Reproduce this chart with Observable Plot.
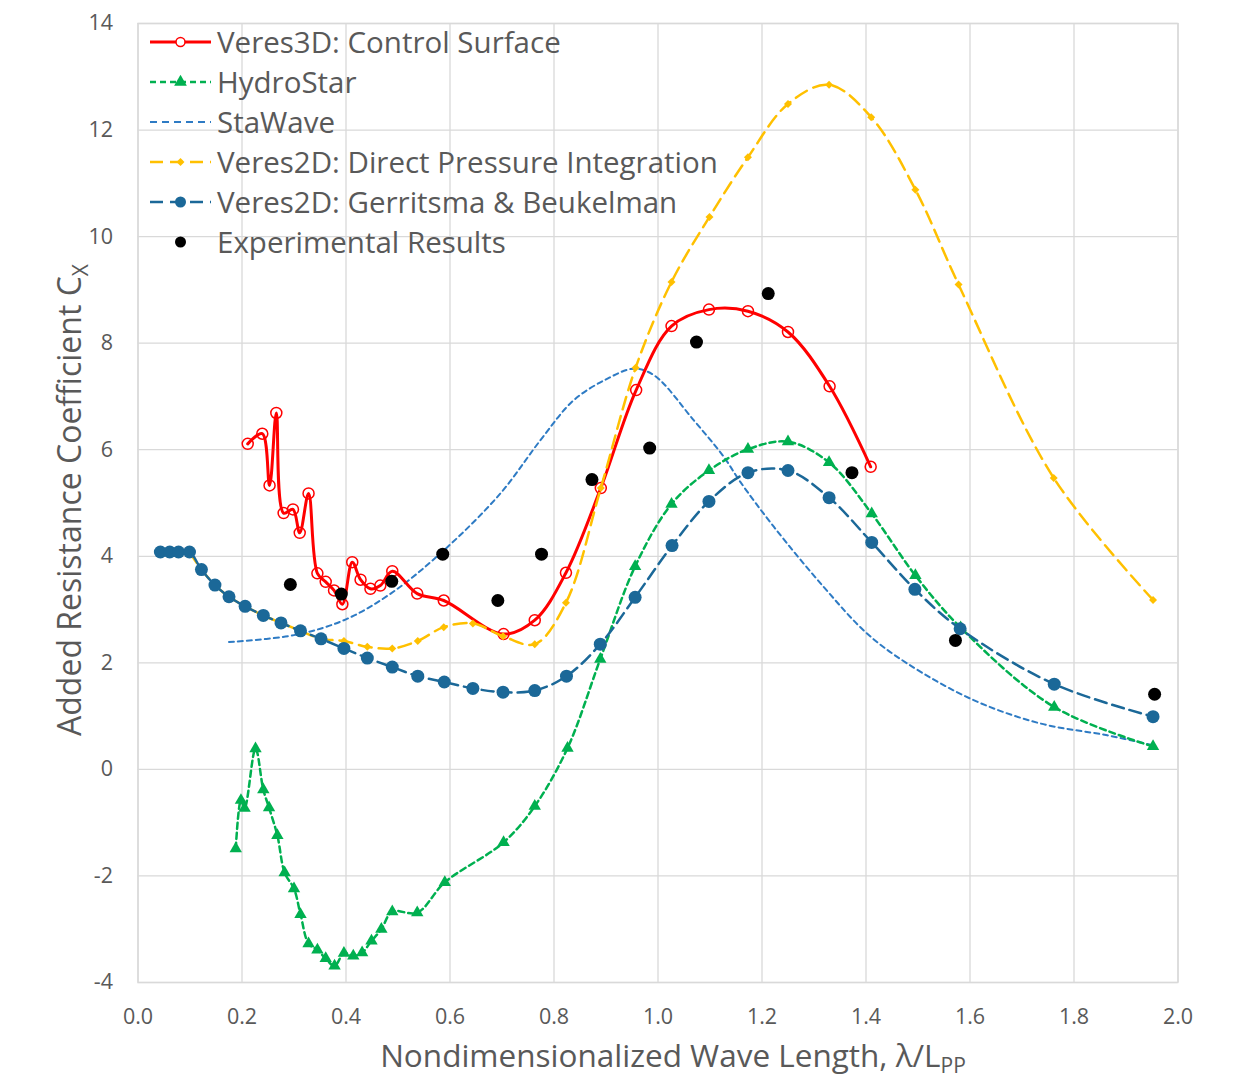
<!DOCTYPE html>
<html><head><meta charset="utf-8">
<script src="https://cdn.jsdelivr.net/npm/d3@7"></script>
<script src="https://cdn.jsdelivr.net/npm/@observablehq/plot@0.6"></script>
<style>body{margin:0;background:#fff;} svg{display:block}</style>
</head><body><div id="chart"></div><script>
// ---------- data ----------
const xTicks = [0,0.2,0.4,0.6,0.8,1.0,1.2,1.4,1.6,1.8,2.0];
const yTicks = [-4,-2,0,2,4,6,8,10,12,14];

const veres3dX = [0.211,0.239,0.253,0.266,0.280,0.298,0.311,0.328,0.345,0.361,0.377,0.393,0.412,0.428,0.447,0.466,0.489,0.537,0.588,0.703,0.763,0.823,0.890,0.958,1.026,1.098,1.173,1.250,1.330,1.409];
const veres3dY = [6.11,6.30,5.33,6.69,4.81,4.88,4.44,5.18,3.68,3.52,3.36,3.10,3.89,3.56,3.39,3.45,3.72,3.30,3.17,2.54,2.80,3.69,5.28,7.12,8.32,8.63,8.60,8.21,7.19,5.68];

const hydroX = [0.188,0.198,0.205,0.226,0.241,0.252,0.268,0.282,0.300,0.3125,0.328,0.345,0.361,0.378,0.396,0.414,0.431,0.449,0.468,0.489,0.537,0.590,0.703,0.763,0.826,0.889,0.956,1.026,1.098,1.173,1.250,1.329,1.411,1.495,1.582,1.762,1.952];
const hydroY = [-1.49,-0.58,-0.73,0.39,-0.38,-0.72,-1.24,-1.94,-2.24,-2.72,-3.27,-3.39,-3.55,-3.69,-3.45,-3.50,-3.44,-3.22,-3.00,-2.67,-2.69,-2.12,-1.37,-0.69,0.40,2.07,3.81,4.98,5.61,6.01,6.15,5.76,4.80,3.64,2.66,1.17,0.43];

const staWaveX = [0.175,0.30,0.396,0.486,0.588,0.697,0.774,0.838,0.902,0.953,0.992,1.069,1.127,1.158,1.223,1.319,1.402,1.479,1.607,1.736,1.864,1.953];
const staWaveY = [2.39,2.52,2.80,3.30,4.11,5.18,6.18,6.93,7.33,7.52,7.40,6.55,5.86,5.40,4.55,3.42,2.55,1.99,1.30,0.86,0.64,0.45];

const dpiX = [0.099,0.122,0.148,0.175,0.206,0.241,0.275,0.3125,0.352,0.396,0.441,0.489,0.538,0.588,0.644,0.702,0.763,0.823,0.890,0.957,1.026,1.099,1.173,1.250,1.329,1.410,1.495,1.578,1.761,1.952];
const dpiY = [4.08,3.75,3.46,3.24,3.06,2.89,2.75,2.60,2.45,2.41,2.30,2.27,2.41,2.67,2.74,2.50,2.35,3.13,5.28,7.54,9.15,10.37,11.49,12.49,12.85,12.24,10.88,9.10,5.47,3.18];

const gbX = [0.043,0.061,0.078,0.099,0.122,0.148,0.175,0.206,0.241,0.275,0.3125,0.352,0.396,0.441,0.489,0.538,0.589,0.644,0.702,0.763,0.824,0.889,0.956,1.027,1.098,1.173,1.250,1.329,1.411,1.494,1.581,1.762,1.952];
const gbY = [4.08,4.08,4.08,4.08,3.75,3.46,3.24,3.06,2.89,2.75,2.60,2.45,2.27,2.09,1.92,1.75,1.64,1.52,1.45,1.48,1.75,2.35,3.23,4.20,5.03,5.57,5.61,5.10,4.26,3.38,2.64,1.60,0.99];

const expX = [0.293,0.391,0.488,0.586,0.692,0.776,0.873,0.984,1.074,1.212,1.373,1.572,1.955];
const expY = [3.47,3.29,3.53,4.04,3.17,4.04,5.44,6.03,8.02,8.93,5.57,2.42,1.41];

const legendLabels = ["Veres3D: Control Surface","HydroStar","StaWave","Veres2D: Direct Pressure Integration","Veres2D: Gerritsma & Beukelman","Experimental Results"];

// ---------- styling ----------
const FONT = "'Open Sans', Lato, sans-serif";
const TXT = "#595959";
const C_RED = "#ff0000", C_GREEN = "#00b050", C_STA = "#2e7bc4", C_YEL = "#ffc000", C_GB = "#1b6898", C_EXP = "#000000";

const rows = (xs, ys) => xs.map((x, i) => ({x, y: ys[i]}));
const red = rows(veres3dX, veres3dY), green = rows(hydroX, hydroY), sta = rows(staWaveX, staWaveY),
      yel = rows(dpiX, dpiY), gb = rows(gbX, gbY), exp = rows(expX, expY);

const plot = Plot.plot({
  width: 1234, height: 1078,
  marginLeft: 137.5, marginRight: 56.5, marginTop: 23, marginBottom: 96,
  style: {fontFamily: FONT, fontSize: "21.5px", color: TXT, background: "#fff"},
  x: {domain: [0, 2]},
  y: {domain: [-4, 14]},
  marks: [
    Plot.gridX(xTicks, {stroke: "#d9d9d9", strokeOpacity: 1, strokeWidth: 1.3}),
    Plot.gridY(yTicks, {stroke: "#d9d9d9", strokeOpacity: 1, strokeWidth: 1.3}),
    Plot.frame({stroke: "#d9d9d9", strokeWidth: 1.3}),
    Plot.axisX(xTicks, {tickSize: 0, tickPadding: 26, tickFormat: d3.format(".1f"), label: null, fill: TXT}),
    Plot.axisY(yTicks, {tickSize: 0, tickPadding: 25, tickFormat: d => String(d), label: null, fill: TXT}),
    Plot.line(sta, {x: "x", y: "y", stroke: C_STA, strokeWidth: 2, strokeDasharray: "5,4", curve: "catmull-rom"}),
    Plot.line(red, {x: "x", y: "y", stroke: C_RED, strokeWidth: 3, curve: "catmull-rom"}),
    Plot.dot(red, {x: "x", y: "y", r: 5.5, stroke: C_RED, strokeWidth: 1.5, fill: "#fff", fillOpacity: 0}),
    Plot.line(green, {x: "x", y: "y", stroke: C_GREEN, strokeWidth: 2.5, strokeDasharray: "6,4", curve: "catmull-rom"}),
    Plot.dot(green, {x: "x", y: "y", r: 4.6, symbol: "triangle", fill: C_GREEN, stroke: "none"}),
    Plot.line(yel, {x: "x", y: "y", stroke: C_YEL, strokeWidth: 2.5, strokeDasharray: "13,7", curve: "catmull-rom"}),
    Plot.dot(yel, {x: "x", y: "y", r: 3.6, symbol: "diamond2", fill: C_YEL, stroke: "none"}),
    Plot.line(gb, {x: "x", y: "y", stroke: C_GB, strokeWidth: 2.5, strokeDasharray: "12,6", curve: "catmull-rom"}),
    Plot.dot(gb, {x: "x", y: "y", r: 6.5, fill: C_GB, stroke: "none"}),
    Plot.dot(exp, {x: "x", y: "y", r: 6.5, fill: C_EXP, stroke: "none"})
  ]
});
document.getElementById("chart").appendChild(plot);

// ---------- titles and legend ----------
const svg = d3.select(plot);

const yt = svg.append("text")
  .attr("transform", "translate(81,500) rotate(-90)")
  .attr("text-anchor", "middle")
  .attr("font-family", FONT).attr("font-size", 32).attr("fill", TXT);
yt.append("tspan").text("Added Resistance Coefficient C");
yt.append("tspan").attr("font-size", 21).attr("dy", 7).text("X");

const xt = svg.append("text")
  .attr("x", 673).attr("y", 1067)
  .attr("text-anchor", "middle")
  .attr("font-family", FONT).attr("font-size", 31.5).attr("fill", TXT);
xt.append("tspan").text("Nondimensionalized Wave Length, \u03BB/L");
xt.append("tspan").attr("font-size", 21).attr("dy", 6).text("PP");

const lg = svg.append("g").attr("text-anchor", "start");
const rowY = i => 42 + 40 * i;
const x0 = 150, x1 = 211, xm = 180.5;

legendLabels.forEach((lab, i) => {
  const g = lg.append("g").attr("transform", `translate(0,${rowY(i)})`);
  if (i === 0) {
    g.append("line").attr("x1", x0).attr("x2", x1).attr("stroke", C_RED).attr("stroke-width", 3);
    g.append("circle").attr("cx", xm).attr("r", 4.5).attr("fill", "#fff").attr("stroke", C_RED).attr("stroke-width", 1.5);
  } else if (i === 1) {
    g.append("line").attr("x1", x0).attr("x2", x1).attr("stroke", C_GREEN).attr("stroke-width", 2.5).attr("stroke-dasharray", "6,4");
    g.append("path").attr("d", d3.symbol(d3.symbolTriangle, 70)()).attr("transform", `translate(${xm},0)`).attr("fill", C_GREEN);
  } else if (i === 2) {
    g.append("line").attr("x1", x0).attr("x2", x1).attr("stroke", C_STA).attr("stroke-width", 2).attr("stroke-dasharray", "7,5");
  } else if (i === 3) {
    g.append("line").attr("x1", x0).attr("x2", x1).attr("stroke", C_YEL).attr("stroke-width", 2.5).attr("stroke-dasharray", "13,7");
    g.append("path").attr("d", d3.symbol(d3.symbolDiamond2, 40)()).attr("transform", `translate(${xm},0)`).attr("fill", C_YEL);
  } else if (i === 4) {
    g.append("line").attr("x1", x0).attr("x2", x1).attr("stroke", C_GB).attr("stroke-width", 2.5).attr("stroke-dasharray", "13,7");
    g.append("circle").attr("cx", xm).attr("r", 5.5).attr("fill", C_GB);
  } else {
    g.append("circle").attr("cx", xm).attr("r", 5.5).attr("fill", C_EXP);
  }
  g.append("text").attr("x", 217).attr("dy", "0.36em").attr("text-anchor", "start")
    .attr("font-family", FONT).attr("font-size", 29.5).attr("fill", TXT).text(lab);
});
</script></body></html>
